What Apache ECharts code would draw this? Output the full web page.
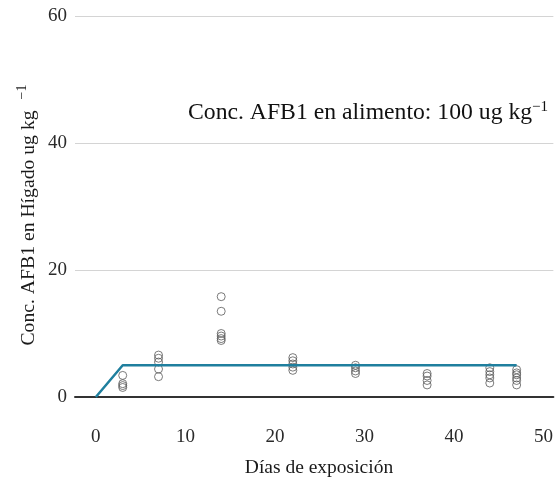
<!DOCTYPE html>
<html>
<head>
<meta charset="utf-8">
<script src="https://cdn.jsdelivr.net/npm/echarts@6/dist/echarts.min.js"></script>
<style>
  html, body { margin: 0; padding: 0; background: #fff; }
  #chart { width: 556px; height: 485px; }
</style>
</head>
<body>
<div id="chart"></div>
<script>
// Sampling days and measured AFB1 concentration in liver (ug/kg) per day
const sampleDays = [3, 7, 14, 22, 29, 37, 44, 47];
const liverDay3 = [3.4, 2.1, 1.8, 1.5];
const liverDay7 = [6.6, 6.1, 5.5, 4.4, 3.2];
const liverDay14 = [15.8, 13.5, 10.0, 9.6, 9.2, 8.9];
const liverDay22 = [6.2, 5.7, 5.2, 4.7, 4.2];
const liverDay29 = [5.0, 4.6, 4.1, 3.7];
const liverDay37 = [3.7, 3.3, 2.6, 1.9];
const liverDay44 = [4.6, 4.0, 3.5, 3.0, 2.2];
const liverDay47 = [4.3, 3.8, 3.5, 3.0, 2.6, 1.9];

// Model curve: uptake then plateau
const modelDays = [0, 3, 47];
const modelConc = [0, 5, 5];

// Axis ticks
const xTicks = [0, 10, 20, 30, 40, 50];
const yTicks = [0, 20, 40, 60];

const liverByDay = [liverDay3, liverDay7, liverDay14, liverDay22, liverDay29, liverDay37, liverDay44, liverDay47];
const points = [];
sampleDays.forEach((d, i) => liverByDay[i].forEach(v => points.push([d, v])));

const serif = '"Liberation Serif", "DejaVu Serif", serif';
const chart = echarts.init(document.getElementById('chart'), null, { renderer: 'canvas' });

chart.setOption({
  animation: false,
  backgroundColor: '#ffffff',
  grid: { left: 75, right: 0, top: 16, bottom: 88, containLabel: false },
  xAxis: {
    type: 'value',
    min: -2.33,
    max: 51.1,
    axisLine: { show: true, onZero: true, lineStyle: { color: '#333333', width: 2 } },
    axisTick: { show: false },
    splitLine: { show: false },
    axisLabel: {
      customValues: xTicks,
      margin: 31,
      color: '#2a2a2a',
      fontFamily: serif,
      fontSize: 19
    }
  },
  yAxis: {
    type: 'value',
    min: 0,
    max: 60,
    interval: 20,
    axisLine: { show: false },
    axisTick: { show: false },
    splitLine: { show: true, lineStyle: { color: '#d4d4d4', width: 1 } },
    axisLabel: {
      customValues: yTicks,
      margin: 8,
      color: '#2a2a2a',
      fontFamily: serif,
      fontSize: 19
    }
  },
  graphic: [
    {
      // y-axis title
      type: 'text',
      x: 29,
      y: 228,
      rotation: Math.PI / 2,
      style: {
        text: 'Conc. AFB1 en Hígado ug kg',
        align: 'center',
        verticalAlign: 'middle',
        fontFamily: serif,
        fontSize: 19.7,
        fill: '#1a1a1a'
      }
    },
    {
      // unit exponent of the y-axis title
      type: 'text',
      x: 22,
      y: 92,
      rotation: Math.PI / 2,
      style: {
        text: '−1',
        align: 'center',
        verticalAlign: 'middle',
        fontFamily: serif,
        fontSize: 14,
        fill: '#1a1a1a'
      }
    },
    {
      type: 'text',
      x: 188,
      y: 113,
      style: {
        text: '{a|Conc. AFB1 en alimento: 100 ug kg}{s|−1}',
        align: 'left',
        verticalAlign: 'middle',
        fill: '#111111',
        rich: {
          a: { fontFamily: serif, fontSize: 23.7, fill: '#111111', lineHeight: 27 },
          s: { fontFamily: serif, fontSize: 15, fill: '#111111', verticalAlign: 'top' }
        }
      }
    },
    {
      type: 'text',
      x: 319,
      y: 468,
      style: {
        text: 'Días de exposición',
        align: 'center',
        verticalAlign: 'middle',
        fontFamily: serif,
        fontSize: 19.5,
        fill: '#1a1a1a'
      }
    }
  ],
  series: [
    {
      type: 'scatter',
      data: points,
      symbol: 'circle',
      symbolSize: 8,
      itemStyle: { color: 'rgba(255,255,255,0)', borderColor: '#5a5a5a', borderWidth: 1 },
      z: 2
    },
    {
      type: 'line',
      data: modelDays.map((d, i) => [d, modelConc[i]]),
      symbol: 'none',
      lineStyle: { color: '#1f7f9e', width: 2.5 },
      z: 3
    }
  ]
});
</script>
</body>
</html>
